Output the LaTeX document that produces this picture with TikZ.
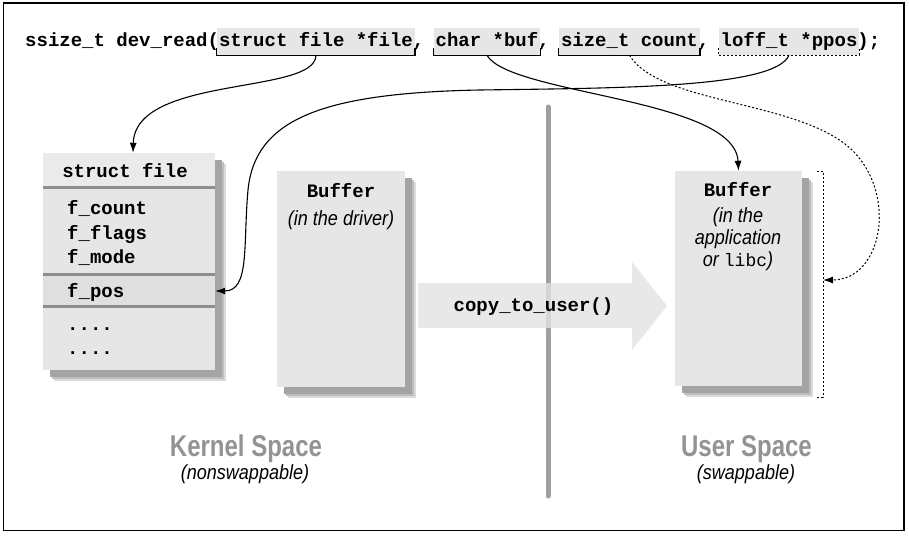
\documentclass[tikz,border=0pt]{standalone}
\usepackage{fontspec}
\setmainfont{Liberation Sans}
\setmonofont{Liberation Mono}
\newfontfamily\condfont[FakeStretch=0.88]{Liberation Sans}
\newfontfamily\narrowfont[FakeStretch=0.8]{Liberation Sans}
\usetikzlibrary{arrows.meta}
\definecolor{boxfill}{HTML}{E6E6E6}
\definecolor{posfill}{HTML}{DFDFDF}
\definecolor{headfill}{HTML}{EAEAEA}
\definecolor{divgray}{HTML}{8E8E8E}
\definecolor{shadowA}{HTML}{DADADA}
\definecolor{shadowB}{HTML}{BDBDBD}
\definecolor{shadowC}{HTML}{A4A4A4}
\definecolor{spacegray}{HTML}{939393}
\definecolor{arrowfill}{HTML}{E2E2E2}
\tikzset{
  code/.style={font=\fontsize{19}{22}\selectfont\ttfamily\bfseries, inner sep=0pt, anchor=base west},
  ctext/.style={font=\fontsize{19}{22}\selectfont\ttfamily\bfseries, inner sep=0pt, anchor=base},
  param/.style={code, fill=boxfill, inner xsep=2pt, inner ysep=0pt, text height=19pt, text depth=8pt},
  bracketline/.style={line width=1.3pt},
  dashline/.style={line width=1pt, dash pattern=on 2pt off 2pt},
  row/.style={fill=boxfill, minimum width=172pt, inner sep=0pt},
  divline/.style={line width=3pt, draw=divgray},
  bufbox/.style={fill=boxfill, inner sep=0pt},
  note/.style={font=\fontsize{20.5}{24}\selectfont\condfont\itshape, inner sep=0pt, anchor=base},
  spacelabel/.style={font=\fontsize{30}{34}\selectfont\narrowfont\bfseries, text=spacegray, inner sep=0pt, anchor=base},
  conn/.style={line width=1.1pt, -{Latex[length=10pt,width=7pt]}},
}
\newcommand{\boxshadow}[2]{%
  \fill[shadowA] ([shift={(11,11)}]#1) rectangle ([shift={(11,11)}]#2);
  \fill[shadowB] ([shift={(9,9)}]#1) rectangle ([shift={(9,9)}]#2);
  \fill[shadowC] ([shift={(7,7)}]#1) rectangle ([shift={(7,7)}]#2);
}
\begin{document}
\begin{tikzpicture}[x=1pt,y=-1pt]
\useasboundingbox (0,0) rectangle (909,535);
\draw[line width=1.3pt] (3.5,3) rectangle (904,530.5);

% code line
\node[code] (c0) at (25,47) {ssize\_t dev\_read(};
\node[param] (pfile) at (216.8,47) {struct file *file};
\node[code] (c1) at (412.6,47) {,};
\node[param] (pbuf) at (433.4,47) {char *buf};
\node[code] (c2) at (538,47) {,};
\node[param] (pcount) at (558.8,47) {size\_t count};
\node[code] (c3) at (697.6,47) {,};
\node[param] (pppos) at (718.4,47) {loff\_t *ppos};
\node[code] (c4) at (857.2,47) {);};
\draw[bracketline] ([yshift=7pt]pfile.south west) -- (pfile.south west) -- (pfile.south east) -- ([yshift=7pt]pfile.south east);
\draw[bracketline] ([yshift=7pt]pbuf.south west) -- (pbuf.south west) -- (pbuf.south east) -- ([yshift=7pt]pbuf.south east);
\draw[bracketline] ([yshift=7pt]pcount.south west) -- (pcount.south west) -- (pcount.south east) -- ([yshift=7pt]pcount.south east);
\draw[dashline] ([yshift=7pt]pppos.south west) -- (pppos.south west) -- (pppos.south east) -- ([yshift=7pt]pppos.south east);

% divider
\draw[line width=5pt, draw=divgray!85, line cap=round] (548,107) -- (548,496);

% struct file
\coordinate (sfnw) at (43,153);
\coordinate (sfse) at (215,370);
\boxshadow{sfnw}{sfse}
\node[row, fill=headfill, minimum height=35pt] (rowhead) at (129,170.5) {};
\node[row, minimum height=87pt] (rowfields) at (129,231.5) {};
\node[row, fill=posfill, minimum height=32pt] (rowpos) at (129,291) {};
\node[row, minimum height=63pt] (rowrest) at (129,338.5) {};
\draw[divline] (rowfields.north west) -- (rowfields.north east);
\draw[divline] (rowpos.north west) -- (rowpos.north east);
\draw[divline] (rowrest.north west) -- (rowrest.north east);
\node[ctext] (sfname) at (125,177) {struct file};
\node[code] (fcount) at (67,214) {f\_count};
\node[code] (fflags) at (67,239) {f\_flags};
\node[code] (fmode) at (67,263) {f\_mode};
\node[code] (fpos) at (67,297) {f\_pos};
\node[code] (dots1) at (67,330) {....};
\node[code] (dots2) at (67,354) {....};

% driver buffer
\coordinate (dbnw) at (277,171);
\coordinate (dbse) at (405,387);
\boxshadow{dbnw}{dbse}
\node[bufbox, minimum width=128pt, minimum height=216pt] (dbuf) at (341,279) {};
\node[ctext] (dbufT) at (341,197) {Buffer};
\node[note] (dbufS) at (341,225) {(in the driver)};

% user buffer
\coordinate (ubnw) at (675,171);
\coordinate (ubse) at (802,386);
\boxshadow{ubnw}{ubse}
\node[bufbox, minimum width=127pt, minimum height=215pt] (ubuf) at (738.5,278.5) {};
\node[ctext] (ubufT) at (738,196) {Buffer};
\node[note] (ubufA) at (738,222) {(in the};
\node[note] (ubufB) at (738,244) {application};
\node[note] (ubufC) at (738,266) {or {\upshape\fontsize{18}{20}\selectfont\ttfamily\mdseries libc})};

% dashed bracket
\draw[dashline] (817,171) -- (823,171) -- (823,397) -- (817,397);
\coordinate (brk) at (823,280);

% copy arrow
\fill[arrowfill, fill opacity=0.8] (418,283) -- (632,283) -- (632,262) -- (667,306) -- (632,350) -- (632,328) -- (418,328) -- cycle;
\node[ctext] (copytxt) at (533.5,311) {copy\_to\_user()};

% labels
\node[spacelabel] (kspace) at (246,456) {Kernel Space};
\node[note] (knote) at (245,479) {(nonswappable)};
\node[spacelabel] (uspace) at (746.5,456) {User Space};
\node[note] (unote) at (746,479) {(swappable)};

% connectors
\draw[conn] (pfile.south) .. controls (316,95) and (135,75) .. ([xshift=4pt]rowhead.north);
\draw[conn] (pppos.south) .. controls (775,88) and (620,88) .. (480,90) .. controls (320,93) and (255,120) .. (248,190) .. controls (243,245) and (250,291) .. (rowpos.east);
\draw[conn] (pbuf.south) .. controls (510,95) and (735,98) .. (ubuf.north);
\draw[conn, dashline] (pcount.south) .. controls (660,105) and (800,100) .. (852,150) .. controls (898,195) and (882,280) .. (brk);
\end{tikzpicture}
\end{document}
